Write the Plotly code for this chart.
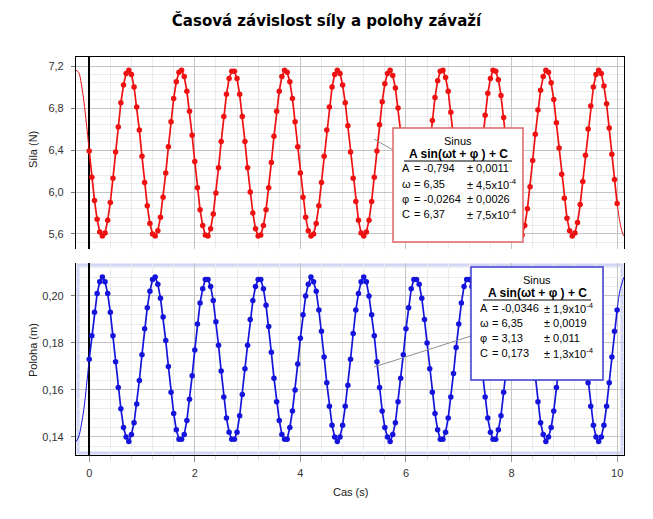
import plotly.graph_objects as go

# measured data, t = 0 .. 10 s sampled every 0.05 s
t_step = 0.05
time = [round(i * t_step, 2) for i in range(201)]

force = [6.39, 6.14, 5.92, 5.74, 5.62, 5.58, 5.61, 5.73, 5.90, 6.13, 6.38, 6.62, 6.85, 7.02, 7.13, 7.16, 7.12, 7.00, 6.81, 6.59,
         6.34, 6.09, 5.87, 5.70, 5.60, 5.58, 5.63, 5.76, 5.95, 6.18, 6.43, 6.67, 6.89, 7.05, 7.14, 7.16, 7.10, 6.96, 6.77, 6.54,
         6.29, 6.04, 5.83, 5.68, 5.59, 5.58, 5.65, 5.79, 5.99, 6.23, 6.48, 6.72, 6.93, 7.08, 7.15, 7.15, 7.08, 6.93, 6.72, 6.48,
         6.23, 6.00, 5.80, 5.65, 5.58, 5.59, 5.68, 5.83, 6.04, 6.28, 6.53, 6.77, 6.96, 7.10, 7.16, 7.14, 7.05, 6.89, 6.67, 6.43,
         6.18, 5.95, 5.76, 5.63, 5.58, 5.60, 5.70, 5.87, 6.09, 6.34, 6.59, 6.81, 7.00, 7.12, 7.16, 7.13, 7.02, 6.85, 6.63, 6.38,
         6.13, 5.91, 5.73, 5.61, 5.58, 5.62, 5.73, 5.91, 6.14, 6.39, 6.64, 6.86, 7.03, 7.13, 7.16, 7.11, 6.99, 6.80, 6.57, 6.32,
         6.08, 5.86, 5.70, 5.60, 5.58, 5.64, 5.77, 5.96, 6.19, 6.44, 6.68, 6.90, 7.06, 7.15, 7.16, 7.09, 6.96, 6.76, 6.52, 6.27,
         6.03, 5.82, 5.67, 5.59, 5.58, 5.66, 5.80, 6.00, 6.24, 6.49, 6.73, 6.94, 7.08, 7.16, 7.15, 7.07, 6.92, 6.71, 6.47, 6.22,
         5.98, 5.79, 5.65, 5.58, 5.59, 5.68, 5.84, 6.05, 6.30, 6.55, 6.78, 6.97, 7.10, 7.16, 7.14, 7.04, 6.88, 6.66, 6.42, 6.17,
         5.94, 5.75, 5.63, 5.58, 5.61, 5.71, 5.88, 6.10, 6.35, 6.60, 6.82, 7.00, 7.12, 7.16, 7.13, 7.01, 6.84, 6.61, 6.36, 6.12,
         5.89]

position = [0.173, 0.183, 0.193, 0.201, 0.206, 0.208, 0.206, 0.201, 0.193, 0.183, 0.172, 0.161, 0.152, 0.144, 0.140, 0.138, 0.141, 0.146, 0.154, 0.164,
            0.175, 0.186, 0.195, 0.202, 0.207, 0.208, 0.205, 0.199, 0.191, 0.181, 0.170, 0.159, 0.150, 0.143, 0.139, 0.139, 0.141, 0.147, 0.156, 0.166,
            0.177, 0.188, 0.197, 0.203, 0.207, 0.207, 0.204, 0.198, 0.189, 0.179, 0.168, 0.157, 0.148, 0.142, 0.139, 0.139, 0.142, 0.149, 0.158, 0.169,
            0.179, 0.190, 0.198, 0.204, 0.207, 0.207, 0.203, 0.196, 0.187, 0.176, 0.165, 0.155, 0.147, 0.141, 0.139, 0.139, 0.144, 0.151, 0.160, 0.171,
            0.182, 0.192, 0.200, 0.205, 0.208, 0.206, 0.202, 0.194, 0.185, 0.174, 0.163, 0.153, 0.145, 0.140, 0.138, 0.140, 0.145, 0.153, 0.162, 0.173,
            0.184, 0.194, 0.201, 0.206, 0.208, 0.206, 0.200, 0.192, 0.183, 0.172, 0.161, 0.151, 0.144, 0.140, 0.138, 0.141, 0.146, 0.155, 0.165, 0.175,
            0.186, 0.195, 0.203, 0.207, 0.207, 0.205, 0.199, 0.190, 0.180, 0.169, 0.159, 0.150, 0.143, 0.139, 0.139, 0.142, 0.148, 0.157, 0.167, 0.178,
            0.188, 0.197, 0.204, 0.207, 0.207, 0.204, 0.197, 0.188, 0.178, 0.167, 0.157, 0.148, 0.142, 0.139, 0.139, 0.143, 0.149, 0.159, 0.169, 0.180,
            0.190, 0.199, 0.205, 0.207, 0.207, 0.203, 0.196, 0.186, 0.176, 0.165, 0.155, 0.146, 0.141, 0.138, 0.140, 0.144, 0.151, 0.161, 0.171, 0.182,
            0.192, 0.200, 0.206, 0.208, 0.206, 0.201, 0.194, 0.184, 0.173, 0.163, 0.153, 0.145, 0.140, 0.138, 0.140, 0.145, 0.153, 0.163, 0.174, 0.185,
            0.194]

fit_t_start = [-0.25, -0.2, -0.15, -0.1, -0.05, 0.0]
fit_t_end = [10.0, 10.05, 10.1, 10.13]
force_fit_start = [7.16, 7.14, 7.03, 6.86, 6.64, 6.39]
force_fit_end = [5.89, 5.72, 5.61, 5.58]
pos_fit_start = [0.138, 0.140, 0.145, 0.152, 0.162, 0.173]
pos_fit_end = [0.194, 0.202, 0.206, 0.208]

# fit results shown in the boxes
fit_labels = ["A", "ω", "φ", "C"]
force_fit_vals = ["-0,794", "6,35", "-0,0264", "6,37"]
force_fit_err = ["0,0011", "4,5x10<sup>-4</sup>", "0,0026", "7,5x10<sup>-4</sup>"]
pos_fit_vals = ["-0,0346", "6,35", "3,13", "0,173"]
pos_fit_err = ["1,9x10<sup>-4</sup>", "0,0019", "0,011", "1,3x10<sup>-4</sup>"]

RED = "#ee1111"
BLUE = "#1414dc"
FONT = "Liberation Sans"

# page offset (body margin) and plot area, in screenshot pixels
OFF = 8
L, R, T, B = 76, 624, 57, 455
W, H = 637, 503


def px(x):
    return (x - L) / (R - L)


def py(y):
    return (B - y) / (B - T)


fig = go.Figure()

# top panel: force
fig.add_trace(go.Scatter(x=fit_t_start, y=force_fit_start, mode="lines", line=dict(color=RED, width=1, shape="spline"),
                         xaxis="x2", yaxis="y2", hoverinfo="skip"))
fig.add_trace(go.Scatter(x=fit_t_end, y=force_fit_end, mode="lines", line=dict(color=RED, width=1, shape="spline"),
                         xaxis="x2", yaxis="y2", hoverinfo="skip"))
fig.add_trace(go.Scatter(x=time, y=force, mode="lines+markers", line=dict(color=RED, width=1.7),
                         marker=dict(color=RED, size=5.5), xaxis="x2", yaxis="y2"))

# bottom panel: position
fig.add_trace(go.Scatter(x=fit_t_start, y=pos_fit_start, mode="lines", line=dict(color=BLUE, width=1, shape="spline"),
                         hoverinfo="skip"))
fig.add_trace(go.Scatter(x=fit_t_end, y=pos_fit_end, mode="lines", line=dict(color=BLUE, width=1, shape="spline"),
                         hoverinfo="skip"))
fig.add_trace(go.Scatter(x=time, y=position, mode="lines+markers", line=dict(color=BLUE, width=1.7),
                         marker=dict(color=BLUE, size=5.5)))

tickfont = dict(family=FONT, size=11, color="#333333")
xcommon = dict(range=[-0.25, 10.13], dtick=2, tick0=0, showgrid=True, gridcolor="#c4c4c4", gridwidth=1,
               zeroline=True, zerolinecolor="black", zerolinewidth=1.5)

fig.update_layout(
    width=W, height=H,
    margin=dict(l=L - OFF, r=W - (R - OFF), t=T - OFF, b=H - (B - OFF)),
    paper_bgcolor="white", plot_bgcolor="white",
    showlegend=False,
    separators=", ",
    font=dict(family=FONT, size=11, color="#222222"),
    title=dict(text="<b>Časová závislost síly a polohy závaží</b>", x=0.5, xref="container", xanchor="center",
               y=1 - (21 - OFF) / H, yanchor="middle", font=dict(family="DejaVu Sans", size=15, color="black")),
    xaxis=dict(**xcommon, domain=[0, 1], anchor="y", showline=True, linecolor="black", linewidth=1.2,
               ticks="outside", ticklen=6, tickcolor="#999999", tickfont=tickfont, ticklabelstandoff=2,
               showticklabels=True,
               minor=dict(dtick=0.4, tick0=0, showgrid=True, gridcolor="#ebebeb",
                          ticks="outside", ticklen=4, tickcolor="#dddddd")),
    xaxis2=dict(**xcommon, domain=[0, 1], anchor="y2", matches="x", side="top", showline=True,
                linecolor="black", linewidth=1.2, showticklabels=False, ticks="",
                minor=dict(dtick=0.4, tick0=0, showgrid=True, gridcolor="#ebebeb")),
    yaxis=dict(domain=[0, py(263)], range=[0.1323, 0.214], dtick=0.02, tick0=0, tickformat=".2f",
               showgrid=True, gridcolor="#c4c4c4", zeroline=False, showline=True, linecolor="black",
               linewidth=1.2, mirror=True, ticks="outside", ticklen=4, tickcolor="#777777", tickfont=tickfont,
               ticklabelstandoff=5,
               minor=dict(dtick=0.004, tick0=0, showgrid=True, gridcolor="#ebebeb")),
    yaxis2=dict(domain=[py(249), 1], range=[5.457, 7.286], dtick=0.4, tick0=0, tickformat=".1f",
                showgrid=True, gridcolor="#c4c4c4", zeroline=False, showline=True, linecolor="black",
                linewidth=1.2, mirror=True, ticks="outside", ticklen=4, tickcolor="#777777", tickfont=tickfont,
                ticklabelstandoff=5,
                minor=dict(dtick=0.08, tick0=0, showgrid=True, gridcolor="#ebebeb")),
)

# lavender frame of the lower panel
fig.add_shape(type="rect", xref="paper", yref="paper", x0=px(78), x1=px(622), y0=py(453), y1=py(265),
              line=dict(color="#d2d6f4", width=3), layer="below")


def note(text, x, y, size=11, xanchor="center", angle=0, color="black"):
    fig.add_annotation(text=text, x=px(x), y=py(y), xref="paper", yref="paper", xanchor=xanchor,
                       yanchor="middle", textangle=angle, showarrow=False,
                       font=dict(family=FONT, size=size, color=color))


# axis titles
note("Síla (N)", 33, 150, size=11, angle=-90, color="#222222")
note("Poloha (m)", 33, 350, size=11, angle=-90, color="#222222")
note("Cas (s)", 350, 492, size=11, color="#222222")


def fit_box(x0, y0, x1, y1, color, vals, errs, rows_y, col_x, leader):
    fig.add_shape(type="line", xref="paper", yref="paper", x0=px(leader[0]), y0=py(leader[1]),
                  x1=px(x0), y1=py(leader[2]), line=dict(color="#909090", width=1))
    fig.add_shape(type="rect", xref="paper", yref="paper", x0=px(x0), x1=px(x1), y0=py(y1), y1=py(y0),
                  line=dict(color=color, width=1.5), fillcolor="white")
    cx = (x0 + x1) / 2
    note("Sinus", cx, y0 + 13)
    note("<b>A sin(ωt + φ ) + C</b>", cx, y0 + 26, size=12)
    fig.add_shape(type="line", xref="paper", yref="paper", x0=px(cx - 54), x1=px(cx + 54),
                  y0=py(y0 + 33), y1=py(y0 + 33), line=dict(color="#808080", width=2))
    for lab, v, e, ry in zip(fit_labels, vals, errs, rows_y):
        note(lab, col_x[0], ry, xanchor="left")
        note("= " + v, col_x[1], ry, xanchor="left")
        note("± " + e, col_x[2], ry, xanchor="left")


fit_box(393, 128, 523, 242, "#e06464", force_fit_vals, force_fit_err, [168, 184, 199, 214],
        [400, 412, 465], (374, 139, 150))
fit_box(471, 267, 603, 380, "#3a3ad0", pos_fit_vals, pos_fit_err, [308, 323, 338, 353],
        [478, 490, 542], (374, 367, 336))

fig.write_html("out.html")
